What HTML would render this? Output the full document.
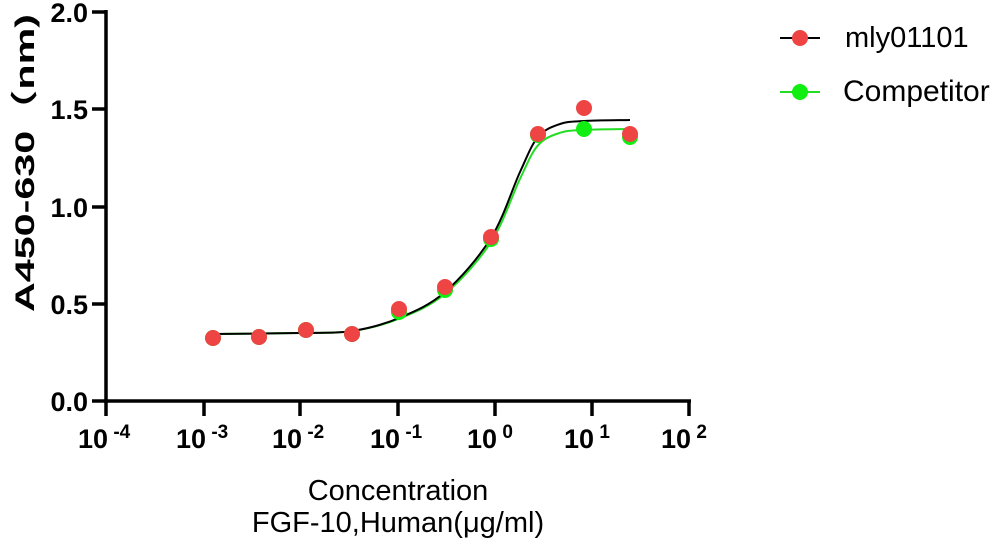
<!DOCTYPE html>
<html><head><meta charset="utf-8"><style>body{margin:0;background:#fff}svg{display:block}</style></head>
<body>
<svg id="s" width="1001" height="545" xmlns="http://www.w3.org/2000/svg" font-family="Liberation Sans, sans-serif">
<g stroke="#000" stroke-width="3.5" fill="none">
<line x1="106" y1="10" x2="106" y2="403"/>
<line x1="104" y1="401" x2="691" y2="401"/>
<line x1="92" y1="12" x2="106" y2="12"/>
<line x1="92" y1="109" x2="106" y2="109"/>
<line x1="92" y1="207" x2="106" y2="207"/>
<line x1="92" y1="304" x2="106" y2="304"/>
<line x1="92" y1="401" x2="106" y2="401"/>
<line x1="106" y1="401" x2="106" y2="416"/>
<line x1="204" y1="401" x2="204" y2="416"/>
<line x1="300" y1="401" x2="300" y2="416"/>
<line x1="398" y1="401" x2="398" y2="416"/>
<line x1="495" y1="401" x2="495" y2="416"/>
<line x1="592" y1="401" x2="592" y2="416"/>
<line x1="689" y1="401" x2="689" y2="416"/>
</g>
<g font-size="27" font-weight="bold" text-anchor="end">
<text x="88" y="22">2.0</text><text x="88" y="119">1.5</text><text x="88" y="217">1.0</text><text x="88" y="314">0.5</text><text x="88" y="411">0.0</text>
</g>
<g font-size="27" font-weight="bold" id="xl"></g>
<text transform="translate(34,163) rotate(-90)" text-anchor="middle" font-size="27" font-weight="bold" textLength="298" lengthAdjust="spacingAndGlyphs" font-family="Liberation Sans, Noto Sans CJK SC, sans-serif">A450-630（nm)</text>
<text x="398" y="500" text-anchor="middle" font-size="29">Concentration</text>
<text x="398" y="532" text-anchor="middle" font-size="29">FGF-10,Human(μg/ml)</text>
<path id="cg" stroke="#22dd22" stroke-width="2" fill="none"/>
<path id="cb" stroke="#000" stroke-width="2" fill="none"/>
<g id="pts"></g>
<line x1="780" y1="38" x2="820" y2="38" stroke="#000" stroke-width="2"/>
<circle cx="800" cy="38" r="8" fill="#ee4444"/>
<text x="845" y="47" font-size="29">mly01101</text>
<line x1="780" y1="92" x2="820" y2="92" stroke="#22dd22" stroke-width="2"/>
<circle cx="800" cy="92" r="8" fill="#11ee11"/>
<text x="843" y="101" font-size="30">Competitor</text>
</svg>
<script>
var ns="http://www.w3.org/2000/svg",s=document.getElementById('s');
var xl=document.getElementById('xl'),ex=['-4','-3','-2','-1','0','1','2'],tx=[106,204,300,398,495,592,689];
for(var i=0;i<7;i++){var t=document.createElementNS(ns,'text');t.setAttribute('x',tx[i]-28);t.setAttribute('y',448);
t.innerHTML='10<tspan dy="-10" font-size="19"> '+ex[i]+'</tspan>';xl.appendChild(t);}
var P=[[213,334],[300,333],[352,331],[399,318],[445,292],[491,238],[520,172],[538,137],[560,124],[584,121],[630,120]];
function path(top){var Q=P.map(function(p){return [p[0],334+(p[1]-334)*(334-top)/214];});
var d='M'+Q[0][0]+','+Q[0][1];for(var i=0;i<Q.length-1;i++){var p0=Q[Math.max(i-1,0)],p1=Q[i],p2=Q[i+1],p3=Q[Math.min(i+2,Q.length-1)];
d+='C'+(p1[0]+(p2[0]-p0[0])/6).toFixed(1)+','+(p1[1]+(p2[1]-p0[1])/6).toFixed(1)+' '+(p2[0]-(p3[0]-p1[0])/6).toFixed(1)+','+(p2[1]-(p3[1]-p1[1])/6).toFixed(1)+' '+p2[0]+','+p2[1];}return d;}
document.getElementById('cg').setAttribute('d',path(129));
document.getElementById('cb').setAttribute('d',path(120));
var px=[213,259,306,352,399,445,491,538,584,630],gy=[338,337,330,334,312,290,239,135,129,137],ry=[338,337,330,334,309,287,237,134,108,134];
var g=document.getElementById('pts');
function c(x,y,f){var e=document.createElementNS(ns,'circle');e.setAttribute('cx',x);e.setAttribute('cy',y);e.setAttribute('r',8);e.setAttribute('fill',f);g.appendChild(e);}
for(var i=0;i<10;i++)c(px[i],gy[i],'#11ee11');
for(var i=0;i<10;i++)if(i!=8)c(px[i],ry[i],'#ee4444');
c(584,108,'#ee4444');
</script>
</body></html>
